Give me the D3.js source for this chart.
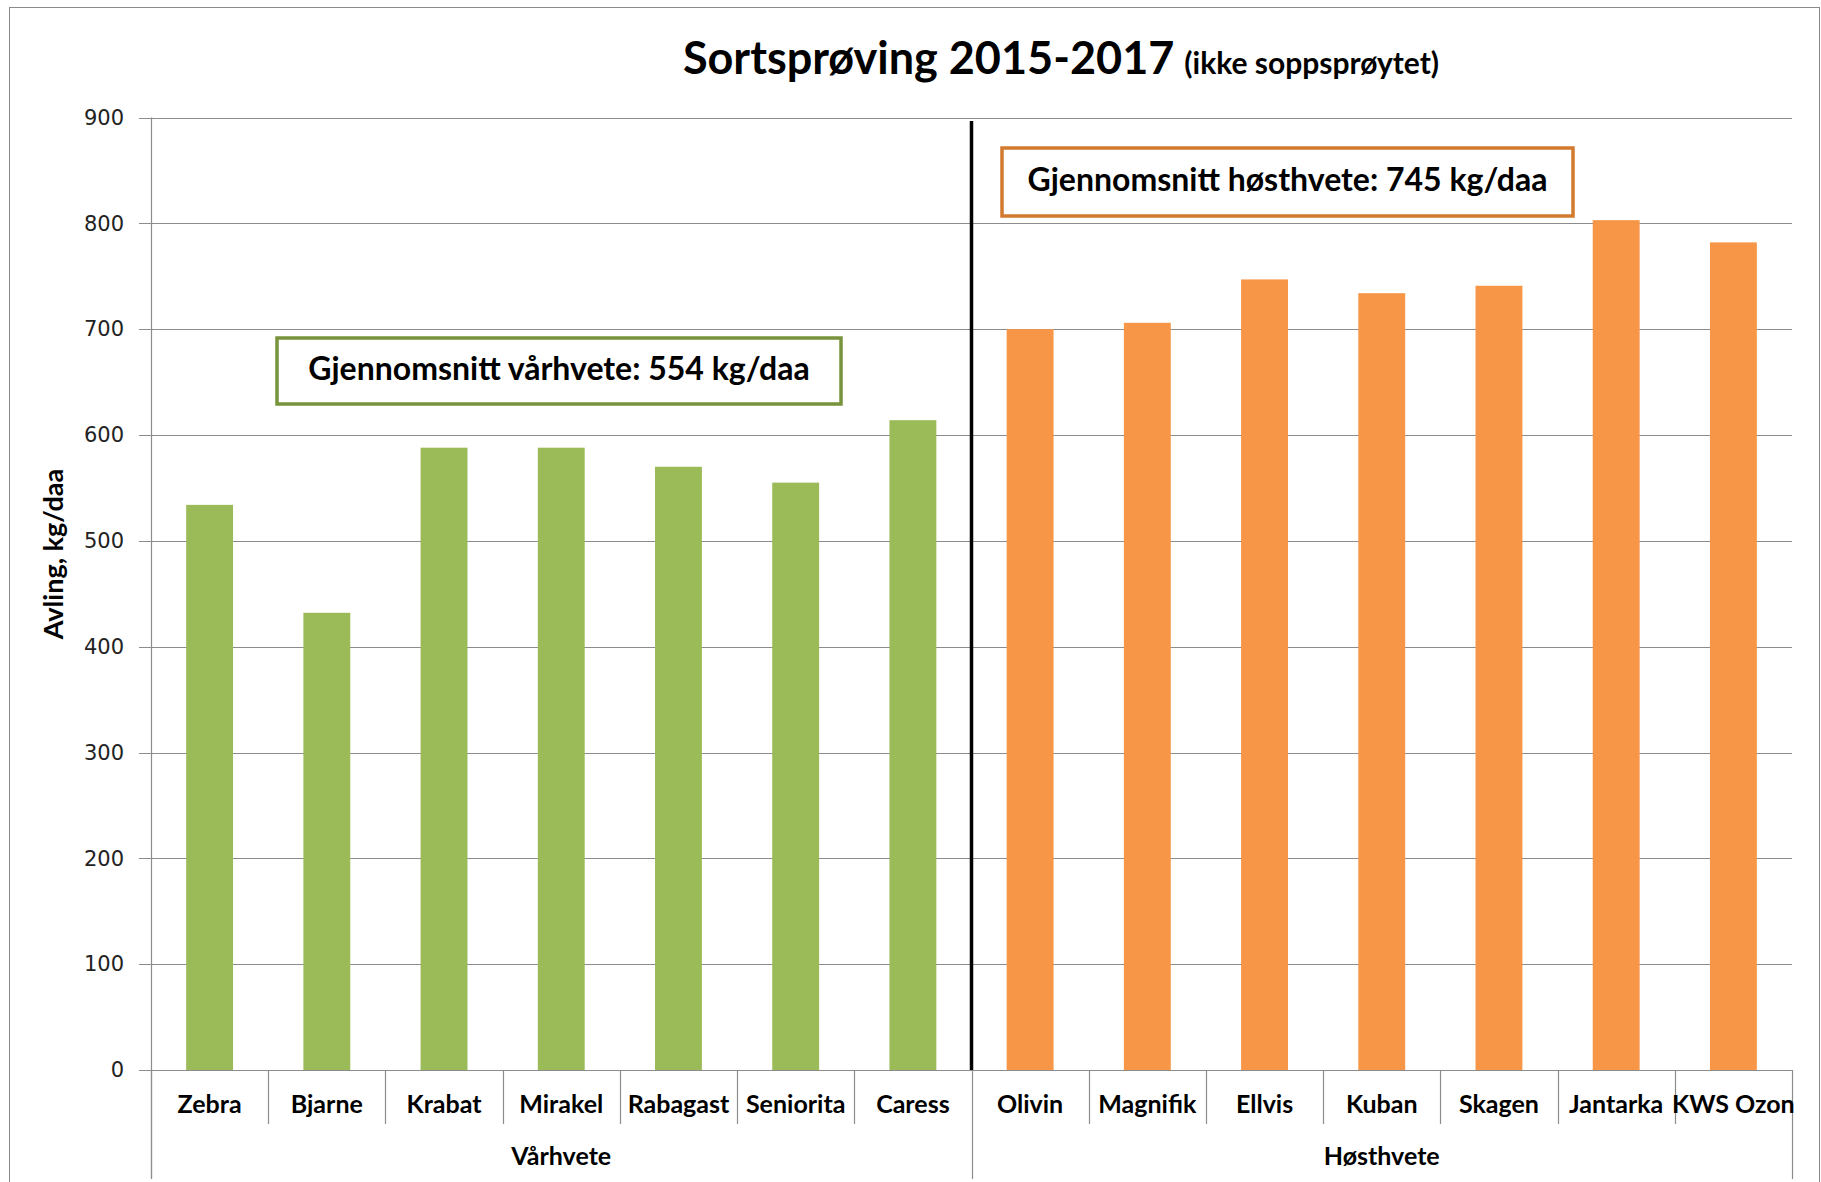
<!DOCTYPE html>
<html>
<head>
<meta charset="utf-8">
<script src="https://cdn.jsdelivr.net/npm/d3@7"></script>
<style>
  html, body { margin: 0; padding: 0; background: #fff; }
  svg { display: block; }
</style>
</head>
<body>
<svg id="chart" width="1821" height="1182"></svg>
<script>
// ---- data ----
const groups = ["Vårhvete", "Høsthvete"];
const varCategories = ["Zebra", "Bjarne", "Krabat", "Mirakel", "Rabagast", "Seniorita", "Caress"];
const varValues = [534, 432, 588, 588, 570, 555, 614];
const hostCategories = ["Olivin", "Magnifik", "Ellvis", "Kuban", "Skagen", "Jantarka", "KWS Ozon"];
const hostValues = [700, 706, 747, 734, 741, 803, 782];
const yTicks = [0, 100, 200, 300, 400, 500, 600, 700, 800, 900];
const titleMain = "Sortsprøving 2015-2017";
const titleSub = "(ikke soppsprøytet)";
const yTitle = "Avling, kg/daa";

// ---- layout ----
const svg = d3.select("#chart");
const L = 151, R = 1792, T = 117.5, B = 1070;
const catBottom = 1124, groupBottom = 1179;
const green = "#9BBB59", orange = "#F79646";
const gridCol = "#8c8c8c";
const textFont = "Lato, 'Open Sans', sans-serif";

const allCats = varCategories.concat(hostCategories);
const rows = varCategories.map((c, i) => ({cat: c, v: varValues[i], g: 0}))
  .concat(hostCategories.map((c, i) => ({cat: c, v: hostValues[i], g: 1})));

const x = d3.scaleBand().domain(allCats).range([L, R]).padding(0);
const y = d3.scaleLinear().domain([0, 900]).range([B, T]);
const bw = x.bandwidth();

// outer border
svg.append("rect").attr("x", 9.5).attr("y", 7.5).attr("width", 1810).attr("height", 1200)
  .attr("fill", "none").attr("stroke", "#8a8a8a").attr("stroke-width", 1);

// title
const title = svg.append("text").attr("x", 1061).attr("y", 74)
  .attr("text-anchor", "middle").attr("font-family", textFont).attr("fill", "#000");
title.append("tspan").attr("font-size", 45).attr("font-weight", "bold").text(titleMain);
title.append("tspan").attr("font-size", 30).attr("font-weight", "bold").attr("dx", 10).text(titleSub);

// gridlines
svg.append("g").selectAll("line").data(yTicks).join("line")
  .attr("x1", L - 12).attr("x2", R).attr("y1", d => Math.round(y(d)) + 0.5).attr("y2", d => Math.round(y(d)) + 0.5)
  .attr("stroke", gridCol).attr("stroke-width", 1.2);

// y axis via d3
const yAxis = d3.axisLeft(y).tickValues(yTicks).tickSize(0).tickPadding(27);
const yg = svg.append("g").attr("transform", `translate(${L},0)`).call(yAxis);
yg.select(".domain").remove();
yg.selectAll("text").attr("font-family", "'DejaVu Sans', Verdana, sans-serif")
  .attr("font-size", 21).attr("fill", "#222");

// vertical axis line extended down through category levels
svg.append("line").attr("x1", L + 0.5).attr("x2", L + 0.5).attr("y1", T).attr("y2", groupBottom)
  .attr("stroke", gridCol).attr("stroke-width", 1.2);

// y title
svg.append("text").attr("transform", `translate(56,${554}) rotate(-90)`)
  .attr("text-anchor", "middle").attr("dominant-baseline", "middle")
  .attr("font-family", textFont).attr("font-weight", "bold").attr("font-size", 27)
  .text(yTitle);

// bars
svg.append("g").selectAll("rect").data(rows).join("rect")
  .attr("x", d => x(d.cat) + bw * 0.3)
  .attr("width", bw * 0.4)
  .attr("y", d => y(d.v))
  .attr("height", d => y(0) - y(d.v))
  .attr("fill", d => d.g === 0 ? green : orange);

// category separators
const bounds = d3.range(allCats.length + 1).map(i => L + i * bw);
svg.append("g").selectAll("line").data(bounds).join("line")
  .attr("x1", d => Math.round(d) + 0.5).attr("x2", d => Math.round(d) + 0.5)
  .attr("y1", B).attr("y2", (d, i) => (i === 0 || i === 7 || i === 14) ? groupBottom : catBottom)
  .attr("stroke", gridCol).attr("stroke-width", 1.2);

// category labels
svg.append("g").selectAll("text").data(allCats).join("text")
  .attr("x", d => x(d) + bw / 2).attr("y", 1107)
  .attr("text-anchor", "middle").attr("dominant-baseline", "middle")
  .attr("font-family", textFont).attr("font-weight", "bold").attr("font-size", 25)
  .text(d => d);

// group labels
const groupCenters = [L + bw * 3.5, L + bw * 10.5];
svg.append("g").selectAll("text").data(groups).join("text")
  .attr("x", (d, i) => groupCenters[i]).attr("y", 1159)
  .attr("text-anchor", "middle").attr("dominant-baseline", "middle")
  .attr("font-family", textFont).attr("font-weight", "bold").attr("font-size", 25)
  .text(d => d);

// divider
svg.append("line").attr("x1", L + bw * 7).attr("x2", L + bw * 7).attr("y1", 121).attr("y2", B)
  .attr("stroke", "#000").attr("stroke-width", 3.5);

// average boxes
const avgVar = Math.round(d3.mean(varValues));
const avgHost = Math.round(d3.mean(hostValues));
const boxes = [
  {x: 277, y: 338, w: 564, h: 66, stroke: "#77933C", text: `Gjennomsnitt vårhvete: ${avgVar} kg/daa`},
  {x: 1002, y: 148, w: 571, h: 68, stroke: "#D27A2E", text: `Gjennomsnitt høsthvete: ${avgHost} kg/daa`}
];
boxes.forEach(b => {
  svg.append("rect").attr("x", b.x).attr("y", b.y).attr("width", b.w).attr("height", b.h)
    .attr("fill", "#fff").attr("stroke", b.stroke).attr("stroke-width", 3.5);
  svg.append("text").attr("x", b.x + b.w / 2).attr("y", b.y + b.h / 2 + 1)
    .attr("text-anchor", "middle").attr("dominant-baseline", "middle")
    .attr("font-family", textFont).attr("font-weight", "bold").attr("font-size", 32)
    .text(b.text);
});
</script>
</body>
</html>
